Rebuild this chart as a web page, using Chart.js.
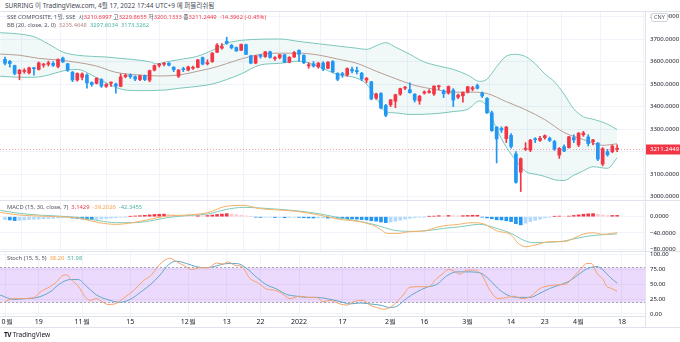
<!DOCTYPE html>
<html lang="ko">
<head>
<meta charset="utf-8">
<script src="https://cdn.jsdelivr.net/npm/chart.js@4.4.1/dist/chart.umd.min.js"></script>
<style>
  body { margin: 0; width: 680px; height: 342px; background: #fff; position: relative; overflow: hidden;
         font-family: "Noto Sans", "Noto Sans CJK KR", sans-serif; }
  canvas { position: absolute; left: 0; }
  .t { position: absolute; white-space: nowrap; color: #50535e; line-height: 8px; }
  .ln { position: absolute; background: #e0e3eb; }
  .r { color: #f23645; } .o { color: #f5a14a; } .g { color: #4fb3a3; } .b { color: #b98a82; }
</style>
</head>
<body>
<canvas id="main" width="680" height="189" style="top:11px"></canvas>
<canvas id="macd" width="680" height="57" style="top:200px"></canvas>
<canvas id="stoch" width="680" height="76" style="top:251px"></canvas>

<div class="t" style="left:5px;top:2px;font-size:6.5px;color:#434651">SURRING 이 TradingView.com, 4월 17, 2022 17:44 UTC+9 에 퍼블리쉬됨</div>
<div class="t" style="left:7px;top:13px;font-size:5.8px">SSE COMPOSITE, 1일, SSE &nbsp;시<span class="r">3210.6997</span> 고<span class="r">3229.8655</span> 저<span class="r">3200.1333</span> 종<span class="r">3211.2449 &nbsp;-14.3962 (-0.45%)</span></div>
<div class="t" style="left:7px;top:21px;font-size:5.8px">BB (20, close, 2, 0) &nbsp;<span class="b">3235.4648</span> &nbsp;<span class="g">3297.6034</span> &nbsp;<span class="g">3173.3262</span></div>
<div class="t" style="left:7px;top:203px;font-size:5.8px">MACD (15, 30, close, 7) &nbsp;<span class="r">3.1429</span> &nbsp;<span class="o">-39.2026</span> &nbsp;<span class="g">-42.3455</span></div>
<div class="t" style="left:7px;top:254px;font-size:5.8px">Stoch (15, 5, 5) &nbsp;<span class="o">38.20</span> &nbsp;<span class="g">51.98</span></div>
<div class="t" style="left:651px;top:13px;font-size:5.5px;border:1px solid #d1d4dc;border-radius:2px;padding:0 2px;background:#fff;line-height:7px">CNY</div>
<div class="t" style="left:4px;top:331px;font-size:6.5px;color:#131722"><b style="letter-spacing:-0.5px">TV</b> TradingView</div>

<div class="ln" style="left:0;top:11px;width:680px;height:1px"></div>
<div class="ln" style="left:0;top:200px;width:680px;height:1px"></div>
<div class="ln" style="left:0;top:251px;width:680px;height:1px"></div>
<div class="ln" style="left:0;top:316px;width:645px;height:1px"></div>
<div class="ln" style="left:0;top:327px;width:680px;height:1px"></div>
<div class="ln" style="left:645px;top:11px;width:1px;height:316px"></div>

<script>
// ---- price data (daily candles, 2021-10-08 .. 2022-04-15) ----
const open = [3610,3601,3582,3546,3556,3550,3572,3565,3584,3588,3592,3578,3615,3590,3553,3518,
  3530,3540,3507,3503,3520,3490,3504,3500,3490,3533,3540,3533,3520,3537,3517,3562,3583,3588,3593,3575,3535,3568,
  3562,3570,3574,3617,3590,3600,3641,3660,3690,3672,3662,3650,3675,3625,3593,3628,3622,3643,3613,3618,3630,3597,3620,
  3650,3628,3581,3590,3577,3593,3570,3600,3548,3546,3540,3565,3560,3548,3518,3510,3438,3458,3405,
  3408,3424,3455,3482,3475,3455,3425,3460,3463,3456,3488,3470,3460,3473,3442,3448,
  3465,3478,3493,3460,3437,3372,3308,3303,3258,3272,3190,3109,3210,3207,3255,3250,3262,3259,3245,3185,3222,3218,3262,
  3230,3275,3265,3245,3238,3145,3200,3200,3210.6997];
const high = [3620,3605,3584,3565,3568,3575,3574,3598,3592,3602,3600,3612,3620,3592,3556,3550,
  3550,3545,3510,3528,3524,3502,3510,3504,3545,3545,3545,3536,3540,3540,3562,3585,3592,3597,3595,3577,3565,3575,
  3580,3580,3610,3620,3608,3640,3680,3680,3708,3676,3665,3678,3678,3628,3627,3632,3645,3646,3622,3632,3632,3622,3645,
  3652,3630,3595,3600,3596,3600,3600,3604,3550,3552,3572,3575,3575,3552,3530,3512,3460,3462,3410,
  3432,3455,3482,3490,3505,3458,3450,3470,3475,3492,3495,3475,3492,3480,3455,3465,
  3490,3490,3500,3465,3440,3380,3312,3310,3312,3280,3200,3172,3240,3255,3262,3268,3275,3265,3250,3218,3230,3268,3275,
  3285,3290,3275,3255,3240,3218,3210,3230,3229.8655];
const low = [3585,3575,3541,3519,3548,3545,3540,3562,3575,3580,3578,3572,3596,3556,3511,3513,
  3518,3482,3490,3500,3485,3485,3490,3460,3488,3528,3525,3515,3515,3515,3510,3558,3575,3580,3580,3555,3529,3555,
  3558,3565,3572,3585,3585,3596,3640,3655,3677,3656,3645,3648,3630,3590,3590,3615,3618,3615,3605,3612,3595,3594,3618,
  3600,3590,3570,3575,3570,3560,3568,3550,3515,3530,3535,3550,3545,3515,3505,3430,3432,3390,3355,
  3400,3395,3450,3475,3460,3420,3410,3455,3460,3450,3475,3440,3455,3400,3435,3420,
  3460,3470,3478,3440,3370,3290,3150,3285,3240,3215,3060,3023,3205,3200,3240,3245,3255,3245,3205,3170,3200,3215,3240,
  3222,3268,3225,3230,3160,3137,3180,3195,3200.1333];
const close = [3592,3591,3547,3562,3561,3572,3568,3594,3588,3594,3583,3609,3598,3562,3518,3547,
  3545,3505,3498,3526,3491,3498,3507,3492,3532,3539,3533,3522,3537,3520,3560,3582,3589,3592,3584,3564,3562,3564,
  3576,3573,3607,3589,3595,3637,3673,3666,3681,3661,3647,3676,3632,3593,3625,3623,3643,3618,3616,3630,3597,3619,3640,
  3632,3595,3586,3580,3593,3567,3597,3555,3521,3541,3569,3558,3555,3523,3525,3434,3456,3394,3361,
  3430,3453,3480,3485,3462,3429,3446,3465,3468,3491,3490,3457,3489,3429,3451,3462,
  3488,3484,3481,3447,3372,3293,3256,3296,3309,3223,3064,3169,3215,3251,3253,3259,3271,3250,3212,3214,3203,3266,3252,
  3282,3283,3236,3252,3167,3213,3186,3225,3211.2449];

// ---- Bollinger bands: [bar, value] ----
const bbUpper = [[-1,3728],[3,3722],[6,3710],[9,3678],[12,3642],[15,3628],[18,3623],[21,3620],[24,3614],[27,3608],
  [30,3599],[31.5,3590],[33.5,3599],[36,3608],[40,3624],[43,3650],[46,3681],[49,3694],[53,3699],[57,3700],[61,3689],
  [65,3679],[69,3669],[73,3659],[75,3654],[77,3670],[79,3684],[81,3664],[84,3632],[87,3598],[90,3580],[93,3565],
  [96,3540],[98.5,3512],[100,3522],[102,3577],[104,3624],[106,3632],[108,3622],[110,3590],[112,3545],[114,3510],
  [116,3455],[118,3390],[120,3355],[122,3344],[125,3322],[127,3298]];
const bbLower = [[-1,3535],[3,3530],[6,3530],[9,3540],[12,3558],[15,3565],[18,3540],[21,3505],[24,3478],[27,3471],
  [30,3471],[31.5,3472],[33.5,3474],[36,3481],[40,3490],[43,3500],[46,3520],[49,3545],[53,3585],[57,3592],[61,3602],
  [65,3578],[69,3542],[73,3526],[75,3500],[77,3440],[79,3377],[81,3372],[84,3365],[87,3366],[90,3370],[93,3378],
  [96,3388],[98.5,3425],[100,3400],[102,3300],[104,3220],[106,3160],[108,3112],[110,3100],[112,3090],[114,3075],
  [116,3072],[118,3095],[120,3115],[122,3133],[125,3126],[127,3173]];
const bbBasis = [[-1,3633],[3,3628],[7,3614],[11,3607],[15,3596],[19,3580],[23,3552],[28,3540],[32,3536],[36,3540],
  [40,3557],[44,3577],[48,3605],[53,3632],[57,3637],[61,3637],[65,3629],[69,3611],[73,3592],[77,3557],[81,3524],
  [85,3494],[89,3477],[93,3464],[97,3464],[100,3458],[104,3422],[108,3386],[112,3342],[116,3285],[120,3254],
  [124,3228],[127,3235]];

// ---- MACD (15, 30, 7) ----
const macdLine = [[-1,10.5],[3,4],[7,1.6],[11,0],[15.5,-4],[19.5,-14.7],[23,-18.8],[26.5,-14.7],[30,-6.5],[33.5,1.6],
  [37.5,4],[42,9.8],[46,26],[49.5,27.8],[53,19.6],[57,16.4],[61,12.3],[65.5,3.3],[69.5,-6.5],[74,-13],[77,-24.5],
  [79.5,-41],[81.5,-41],[84,-36.8],[87,-35],[90,-24.5],[94,-18.8],[97,-14.7],[99,-16.4],[102,-34.4],[105,-45],
  [106.5,-65.4],[108,-73.6],[110,-69.5],[113,-61.3],[116,-61.3],[118,-53],[120,-42.5],[122,-39.3],[124,-43.3],
  [127,-39.2026]];
const signalLine = [[-1,15.5],[3,8.2],[7,4],[11,1.6],[15.5,-2.5],[19.5,-9.8],[23,-14.7],[26.5,-14.7],[30,-10.6],
  [33.5,-2.5],[37.5,2.5],[42,6.5],[46,18],[49.5,22.9],[53,21.3],[57,18],[61,13.9],[65.5,6.5],[69.5,-3],[74,-12.3],
  [77,-20.4],[80.5,-32.7],[84,-36],[87.5,-34.4],[91,-28.6],[94.5,-24.5],[98.5,-18.8],[102,-28.6],[105,-41],
  [107.5,-57.2],[109.5,-63.8],[112.5,-63],[116,-59.7],[119.5,-50.7],[123,-45],[127,-42.3455]];
const macdHist = [-7,-8,-9.5,-9,-8,-7,-6.5,-6,-5,-4.5,-4,-3,-2.5,-2.5,
  -3.5,-4.5,-5.5,-6.5,-7, -6.5,-5.5,-4.5,-3.5,-2.5,-1.5,-0.5,
  0.8,1.8,2.5,3.5, 4.5,5.5,6,6.2, 5.5,4.5,3.5,2.5, 2,1.8,2.5, 2.2,2.8,4,5.5,6.5,7.5,
  6.5,5,3.5,2,0.5,-1,
  -1.8,-1.5,-1.2,-2,-1.8,-2.5,-2,-1.5,-1.8,-2.5,-3,-3.2,-3,-2.8,-3.5,-3.2,
  -4,-4.5,-5,-5.5,-6,-7,-8,-10,-11,-13,-14.5, -13,-11,-8.5,-6,-4,-2.5,-1.5,-0.5,
  0.8,1.5,2.5,2.2,3,2.5,2,2.5,3,3.5,3.5,
  -1,-3,-5,-7.5,-8,-10,-12,-17,-20, -16,-12,-9,-6,-3,-1,
  0.8,1.5,0.8,1.5,3, 4.5,6,7,7.5, 6,4.5,2.8,3.0,3.1429];

// ---- Stochastic (15, 5, 5) ----
const stochK = [[0,20.6],[1.7,26],[3,26],[6,27.7],[7.3,37],[9.3,46],[10.7,54],[11.8,64],[12.8,66],[13.8,57],
  [15.2,47],[16.6,29],[17.6,23],[19,26],[20,21.5],[21.4,16],[22.8,17],[24.5,26],[26.6,39],[28.7,56],[30.4,66],
  [31.8,81],[33.2,91],[34.2,94],[35.6,88],[37.3,81],[38.7,75],[40.5,78],[42.2,78],[43.9,86],[45.3,84],[46.3,88],
  [47.7,82],[49.1,80],[50.8,60],[52.6,52],[54.3,42],[56,40],[57.4,35],[59.1,26],[61.2,30],[62.9,28],[64.7,28],
  [66,20.6],[67.4,23],[69.5,17],[70.9,15],[72.3,20.6],[74.3,23],[75.7,15],[77.1,11],[78.5,8],[79.9,11],[81.3,20.6],
  [82.6,32],[84,45],[86.1,46],[87.8,46],[89.6,60],[90.9,68.5],[92,75],[93,73],[94.4,67],[95.8,74],[97.2,74],
  [98.9,66],[100.6,40],[102.3,26],[104.1,27.7],[105.5,30],[107.2,26],[108.9,29],[111,43],[112.4,47],[114.5,49],
  [116.5,51],[117.9,62],[119.3,74],[120.7,85],[121.7,85],[122.8,68.5],[124.1,58],[124.8,47],[125.9,43],[127,38.2]];
const stochD = [[-1,32],[1.7,24.7],[4.5,26],[6.6,27.7],[9.3,37],[11.4,51],[13.5,58],[15.2,58],[17,46],[19,32],
  [21.1,24.7],[23.9,19.7],[26,24.7],[28,36],[30.1,49],[32.2,66],[33.9,83],[35.6,89],[37.7,85],[39.8,79.5],[41.8,78],
  [43.9,81],[46,85],[48.1,85],[50.1,77],[52.2,62],[54.3,49],[56.4,42],[58.4,33],[60.5,30],[62.6,28],[64.7,28],
  [66.7,26],[69.5,21],[71.6,17],[73.7,18.5],[75.7,17],[77.8,15],[79.9,11],[81.3,13],[83.3,26],[85.4,37],[87.5,45],
  [89.6,50],[91.6,64],[93.7,71],[95.8,71],[98.5,69.5],[100.6,57],[102.7,40],[104.8,30],[106.8,28],[108.9,28],
  [111,35],[113,43],[115.1,49],[117.2,56],[119.3,68.5],[121,77],[122.8,80],[124.1,74],[125.4,63],[127,51.98]];

// ---- time axis labels (bar index -> text) ----
const tickIdx = [0, 7, 16, 26, 38, 46, 53, 61, 70, 80, 87, 96, 105, 112, 119, 128];
const tickText = ['10월', '19', '11월', '15', '12월', '13', '22', '2022', '17', '2월', '16', '3월', '14', '23', '4월', '18'];

const upColor = '#f23645', downColor = '#2196f3';
const gridColor = '#f0f3fa';
const xMin = -5 / 4.82, xMax = xMin + 645 / 4.82;
const xFont = { family: '"Noto Sans", sans-serif', size: 7 };
const yFont = { family: '"Noto Sans", sans-serif', size: 6 };

const pts = arr => arr.map(p => ({ x: p[0], y: p[1] }));

function xScale(showLabels) {
    return {
        type: 'linear', min: xMin, max: xMax, offset: false,
        grid: { color: gridColor, drawTicks: false },
        border: { display: false },
        ticks: {
            display: showLabels, autoSkip: false, maxRotation: 0, padding: 2,
            color: '#131722', font: xFont,
            callback: v => tickText[tickIdx.indexOf(v)] ?? ''
        },
        afterBuildTicks: s => { s.ticks = tickIdx.map(v => ({ value: v })); },
        afterFit: s => { s.height = showLabels ? 11 : 0; s.paddingLeft = 0; s.paddingRight = 0; }
    };
}

function yScale(min, max, ticks, fmt) {
    return {
        position: 'right', min, max,
        grid: { color: gridColor, drawTicks: false },
        border: { display: false },
        ticks: { color: '#131722', font: yFont, padding: 5, callback: fmt },
        afterBuildTicks: s => { s.ticks = ticks.map(v => ({ value: v })); },
        afterFit: s => { s.width = 35; s.paddingTop = 0; s.paddingBottom = 0; }
    };
}

const lineDs = (data, color, extra) => Object.assign({
    type: 'line', data: pts(data), borderColor: color, borderWidth: 1, pointRadius: 0,
    cubicInterpolationMode: 'monotone', fill: false, order: 3
}, extra || {});

const baseOpts = {
    responsive: false, animation: false, devicePixelRatio: 1,
    layout: { padding: 0 },
    plugins: { legend: { display: false }, tooltip: { enabled: false } }
};

// last price line + tag
const lastPricePlugin = {
    id: 'lastPrice',
    afterDraw(chart) {
        const { ctx, chartArea: a, scales: { y } } = chart;
        const last = close[close.length - 1];
        const py = Math.round(y.getPixelForValue(last)) + 0.5;
        ctx.save();
        ctx.strokeStyle = 'rgba(242,54,69,0.45)';
        ctx.setLineDash([1, 2]);
        ctx.beginPath(); ctx.moveTo(a.left, py); ctx.lineTo(a.right, py); ctx.stroke();
        ctx.setLineDash([]);
        ctx.fillStyle = upColor;
        ctx.fillRect(a.right, py - 5, 35, 10);
        ctx.fillStyle = '#fff';
        ctx.font = '6px "Noto Sans"';
        ctx.textBaseline = 'middle';
        ctx.fillText(last.toFixed(4), a.right + 5, py);
        ctx.restore();
    }
};

// stochastic 80/20 band
const bandPlugin = {
    id: 'band',
    beforeDatasetsDraw(chart) {
        const { ctx, chartArea: a, scales: { y } } = chart;
        const y80 = Math.round(y.getPixelForValue(80)) + 0.5, y20 = Math.round(y.getPixelForValue(20)) + 0.5;
        ctx.save();
        ctx.fillStyle = 'rgba(160,70,240,0.2)';
        ctx.fillRect(a.left, y80, a.right - a.left, y20 - y80);
        ctx.strokeStyle = '#a4a6ae';
        ctx.setLineDash([2, 2]);
        ctx.beginPath();
        ctx.moveTo(a.left, y80); ctx.lineTo(a.right, y80);
        ctx.moveTo(a.left, y20); ctx.lineTo(a.right, y20);
        ctx.stroke();
        ctx.restore();
    }
};

const candleColor = c => close[c.dataIndex] >= open[c.dataIndex] ? upColor : downColor;

new Chart(document.getElementById('main'), {
    type: 'bar',
    data: {
        datasets: [
            { data: close.map((c, i) => ({ x: i, y: [open[i], c] })), backgroundColor: candleColor,
              barThickness: 3, minBarLength: 1, grouped: false, order: 1 },
            { data: close.map((c, i) => ({ x: i, y: [low[i], high[i]] })), backgroundColor: candleColor,
              barThickness: 1, grouped: false, order: 2 },
            lineDs(bbUpper, '#7cc7bb', { fill: '+1', backgroundColor: 'rgba(0,150,136,0.06)' }),
            lineDs(bbLower, '#7cc7bb'),
            lineDs(bbBasis, '#c49d96')
        ]
    },
    options: Object.assign({}, baseOpts, {
        scales: {
            x: xScale(false),
            y: yScale(2985.4, 3824.3, [3000, 3100, 3200, 3300, 3400, 3500, 3600, 3700, 3800], v => v.toFixed(4))
        }
    }),
    plugins: [lastPricePlugin]
});

const histColor = c => {
    const v = macdHist[c.dataIndex], p = c.dataIndex > 0 ? macdHist[c.dataIndex - 1] : v;
    if (v >= 0) return v >= p ? '#f23645' : '#fccbcd';
    return v < p ? '#2196f3' : '#b2dafc';
};

new Chart(document.getElementById('macd'), {
    type: 'bar',
    data: {
        datasets: [
            { data: macdHist.map((v, i) => ({ x: i, y: v })), backgroundColor: histColor,
              barThickness: 3, grouped: false, order: 2 },
            lineDs(macdLine, '#f7b066', { order: 1 }),
            lineDs(signalLine, '#7fcab9', { order: 1 })
        ]
    },
    options: Object.assign({}, baseOpts, {
        layout: { padding: { bottom: 6 } },
        scales: {
            x: xScale(false),
            y: yScale(-84.2, 41, [0, -40, -80], v => (v < 0 ? '\u2212' : '') + Math.abs(v).toFixed(4))
        }
    })
});

new Chart(document.getElementById('stoch'), {
    type: 'line',
    data: {
        datasets: [
            lineDs(stochK, '#f4a06a', { order: 1 }),
            lineDs(stochD, '#5fa6c9', { order: 2 })
        ]
    },
    options: Object.assign({}, baseOpts, {
        scales: {
            x: xScale(true),
            y: yScale(-3.4, 106.2, [0, 25, 50, 75, 100], v => v.toFixed(2))
        }
    }),
    plugins: [bandPlugin]
});
</script>
</body>
</html>
